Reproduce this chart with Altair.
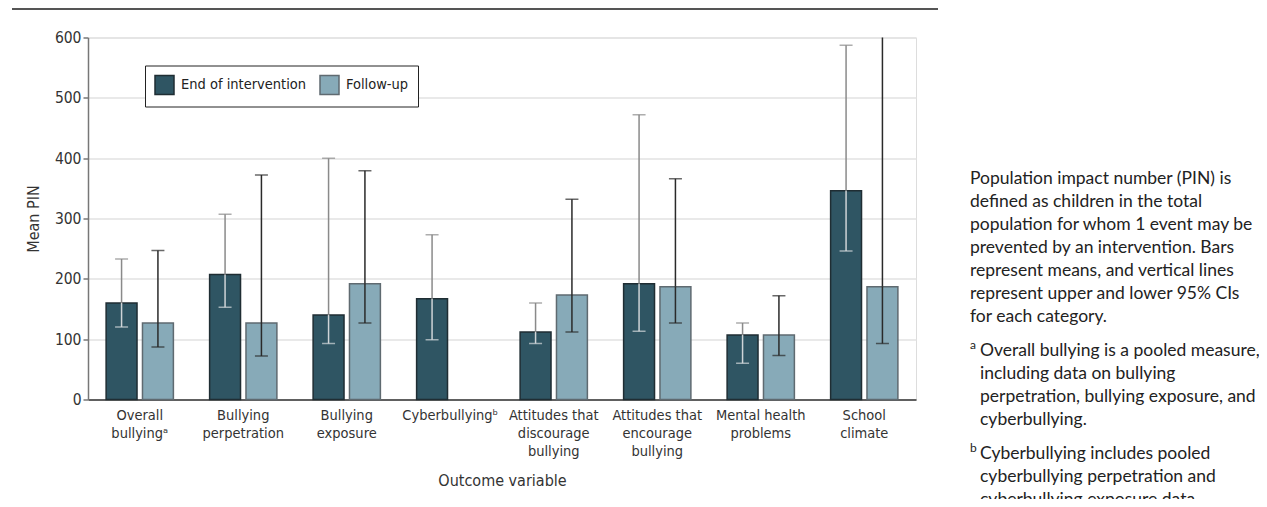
import altair as alt
import pandas as pd

categories = [
    "Overall|bullyingᵃ",
    "Bullying|perpetration",
    "Bullying|exposure",
    "Cyberbullyingᵇ",
    "Attitudes that|discourage|bullying",
    "Attitudes that|encourage|bullying",
    "Mental health|problems",
    "School|climate",
]
series_names = ["End of intervention", "Follow-up"]

end_mean = [160, 207, 140, 167, 112, 192, 107, 346]
end_low = [120, 153, 93, 99, 93, 113, 60, 246]
end_high = [233, 307, 400, 273, 160, 472, 127, 587]

fu_mean = [127, 127, 192, None, 173, 187, 107, 187]
fu_low = [87, 72, 127, None, 112, 127, 73, 93]
fu_high = [247, 372, 379, None, 332, 366, 172, 700]

rows = []
for i, c in enumerate(categories):
    rows.append(dict(category=c, series=series_names[0], mean=end_mean[i], low=end_low[i], high=end_high[i]))
    if fu_mean[i] is not None:
        rows.append(dict(category=c, series=series_names[1], mean=fu_mean[i], low=fu_low[i], high=fu_high[i]))
df = pd.DataFrame(rows)

FONT = "DejaVu Sans Condensed"
NOTE_FONT = "Lato"

note_main = [
    "Population impact number (PIN) is",
    "defined as children in the total",
    "population for whom 1 event may be",
    "prevented by an intervention. Bars",
    "represent means, and vertical lines",
    "represent upper and lower 95% CIs",
    "for each category.",
]
note_a = [
    "Overall bullying is a pooled measure,",
    "including data on bullying",
    "perpetration, bullying exposure, and",
    "cyberbullying.",
]
note_b = [
    "Cyberbullying includes pooled",
    "cyberbullying perpetration and",
    "cyberbullying exposure data.",
]

x_enc = alt.X(
    "category:N",
    sort=categories,
    scale=alt.Scale(paddingInner=0.35, paddingOuter=0.175),
    axis=alt.Axis(
        title="Outcome variable",
        labelExpr="split(datum.label, '|')",
        labelAngle=0,
        labelFont=FONT,
        labelFontSize=14.5,
        labelColor="#333",
        labelLineHeight=18,
        labelPadding=9,
        ticks=False,
        grid=False,
        domainColor="#333",
        domainWidth=1.5,
        titleFont=FONT,
        titleFontSize=16,
        titleFontWeight="normal",
        titleColor="#333",
        titleY=81,
        titleBaseline="middle",
    ),
)
xo_enc = alt.XOffset("series:N", sort=series_names, scale=alt.Scale(paddingInner=0.15, paddingOuter=0))
y_scale = alt.Scale(domain=[0, 600], nice=False)
y_axis = alt.Axis(
    title="Mean PIN",
    values=[0, 100, 200, 300, 400, 500, 600],
    labelFont=FONT,
    labelFontSize=15.5,
    labelColor="#333",
    labelPadding=2,
    tickSize=5,
    tickColor="#777",
    tickWidth=1.5,
    domainColor="#777",
    domainWidth=1.5,
    gridColor="#e2e2e2",
    gridWidth=1.5,
    titleFont=FONT,
    titleFontSize=16,
    titleFontWeight="normal",
    titleColor="#333",
    titleX=-55,
    titleY=181,
    titleAngle=-90,
    titleBaseline="middle",
)

base = alt.Chart(df)

bars = base.mark_bar(strokeWidth=1.5).encode(
    x=x_enc,
    xOffset=xo_enc,
    y=alt.Y("mean:Q", scale=y_scale, axis=y_axis),
    fill=alt.Fill(
        "series:N",
        sort=series_names,
        scale=alt.Scale(domain=series_names, range=["#2f5563", "#87aab8"]),
        legend=alt.Legend(
            title=None,
            orient="none",
            legendX=57,
            legendY=28,
            direction="horizontal",
            strokeColor="#222",
            fillColor="white",
            padding=9,
            symbolType="square",
            symbolSize=361,
            symbolStrokeWidth=1.5,
            symbolOpacity=1,
            labelFont=FONT,
            labelFontSize=14.5,
            labelColor="#222",
            columnPadding=10,
            labelOffset=6,
        ),
    ),
    stroke=alt.Stroke(
        "series:N",
        sort=series_names,
        scale=alt.Scale(domain=series_names, range=["#1f2d33", "#5f6a70"]),
        legend=None,
    ),
)

is_end = alt.datum.series == series_names[0]

upper = base.mark_rule(strokeWidth=1.5, clip=True).encode(
    x=x_enc, xOffset=xo_enc,
    y=alt.Y("mean:Q", scale=y_scale), y2="high:Q",
    color=alt.condition(is_end, alt.value("#8a8a8a"), alt.value("#2a2a2a")),
)
lower = base.mark_rule(strokeWidth=1.5, clip=True).encode(
    x=x_enc, xOffset=xo_enc,
    y=alt.Y("low:Q", scale=y_scale), y2="mean:Q",
    color=alt.condition(is_end, alt.value("#cfd4d7"), alt.value("#2a2a2a")),
)
cap_hi = base.mark_tick(size=13, thickness=1.5, orient="horizontal", clip=True).encode(
    x=x_enc, xOffset=xo_enc,
    y=alt.Y("high:Q", scale=y_scale),
    color=alt.condition(is_end, alt.value("#8a8a8a"), alt.value("#2a2a2a")),
)
cap_lo = base.mark_tick(size=13, thickness=1.5, orient="horizontal", clip=True).encode(
    x=x_enc, xOffset=xo_enc,
    y=alt.Y("low:Q", scale=y_scale),
    color=alt.condition(is_end, alt.value("#d3d8db"), alt.value("#2a2a2a")),
)

one = pd.DataFrame({"k": [0]})
top_rule = alt.Chart(one).mark_rule(color="#555", strokeWidth=2.5).encode(
    x=alt.value(-76), x2=alt.value(850), y=alt.value(-28.8)
)


def note(lines, x, y):
    d = pd.DataFrame({"t": ["\n".join(lines)]})
    return alt.Chart(d).mark_text(
        font=NOTE_FONT, fontSize=17.5, color="#222", align="left", baseline="top",
        lineBreak="\n", lineHeight=23,
    ).encode(text="t:N", x=alt.value(x), y=alt.value(y))


def sup(letter, x, y):
    d = pd.DataFrame({"t": [letter]})
    return alt.Chart(d).mark_text(
        font=NOTE_FONT, fontSize=12, color="#222", align="left", baseline="top",
    ).encode(text="t:N", x=alt.value(x), y=alt.value(y))


notes = [
    note(note_main, 882, 132),
    sup("a", 882, 302),
    note(note_a, 892, 304),
    sup("b", 882, 405),
    note(note_b, 892, 407),
]

chart = alt.layer(bars, lower, upper, cap_lo, cap_hi, top_rule, *notes).properties(
    width=828,
    height=362,
    autosize=alt.AutoSizeParams(type="none"),
    padding={"left": 80, "top": 29.5, "right": 343, "bottom": 99.5},
).configure_view(stroke=None).configure(background="white")

chart.save("out.html", embed_options={"renderer": "svg", "actions": False})
